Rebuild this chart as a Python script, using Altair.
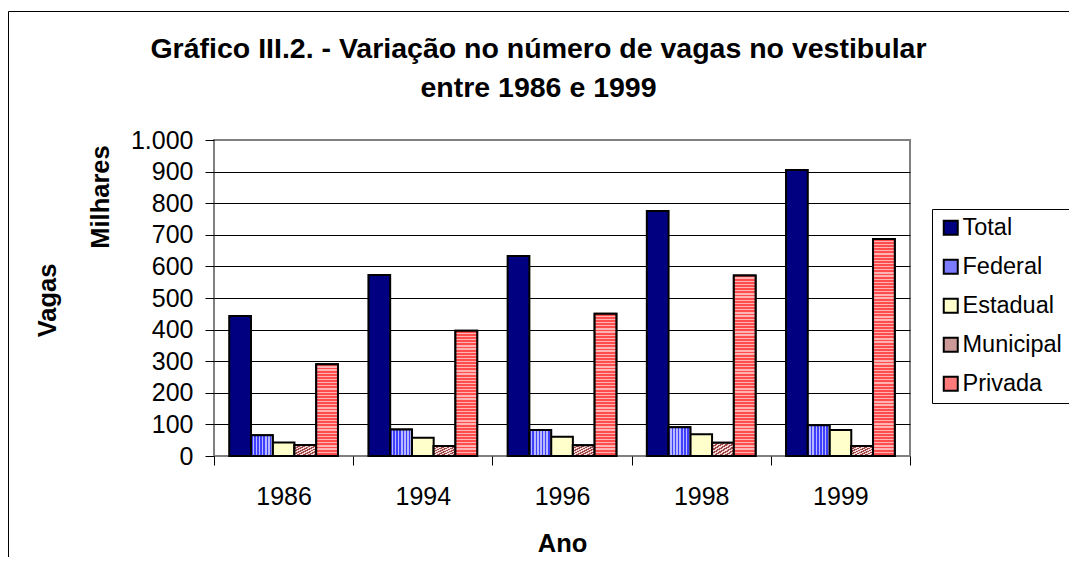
import altair as alt
import pandas as pd

# ---- data (thousands of places) ----
years = ["1986", "1994", "1996", "1998", "1999"]
series = ["Total", "Federal", "Estadual", "Municipal", "Privada"]
total = [443, 573, 633, 775, 905]
federal = [66, 84, 82, 91, 97]
estadual = [43, 58, 61, 69, 82]
municipal = [35, 32, 34, 42, 32]
privada = [290, 396, 450, 571, 687]
y_ticks = [0, 100, 200, 300, 400, 500, 600, 700, 800, 900, 1000]
title_lines = ["Gráfico III.2. - Variação no número de vagas no vestibular",
               "entre 1986 e 1999"]
units_label = ["Milhares"]

values = {"Total": total, "Federal": federal, "Estadual": estadual,
          "Municipal": municipal, "Privada": privada}
rows = [{"Ano": yr, "Serie": s, "Vagas": values[s][i]}
        for s in series for i, yr in enumerate(years)]
df = pd.DataFrame(rows)

FONT = "Liberation Sans"
W, H = 696, 316
solid = ["#000080", "#7B7BFF", "#FFFFCC", "#CC9999", "#FF7B7B"]


def stripes(c1, c2, n, frac, x2, y2):
    stops = []
    for k in range(n):
        a = k / n
        b = (k + frac) / n
        c = (k + 1) / n
        stops += [alt.GradientStop(offset=a, color=c1),
                  alt.GradientStop(offset=b, color=c1),
                  alt.GradientStop(offset=b, color=c2),
                  alt.GradientStop(offset=c, color=c2)]
    return alt.LinearGradient(gradient="linear", stops=stops,
                              x1=0, y1=0, x2=x2, y2=y2)


x_enc = alt.X("Ano:N", sort=years,
              scale=alt.Scale(paddingInner=0, paddingOuter=0),
              axis=alt.Axis(labelAngle=0, labelFont=FONT, labelFontSize=25,
                            labelColor="black", labelBaseline="alphabetic",
                            labelPadding=39, tickBand="extent", tickSize=9,
                            tickColor="black", tickWidth=1, domain=False,
                            grid=False, title="Ano", titleFont=FONT,
                            titleFontSize=25.5, titleFontWeight="bold",
                            titleColor="black", titleX=348, titleY=95,
                            titleAlign="center", titleBaseline="alphabetic"))
xo_enc = alt.XOffset("Serie:N", sort=series,
                     scale=alt.Scale(domain=series, paddingInner=0,
                                     paddingOuter=0.7))
y_enc = alt.Y("Vagas:Q", scale=alt.Scale(domain=[0, 1000], nice=False),
              axis=alt.Axis(values=y_ticks, format=",d",
                            labelExpr="replace(datum.label, ',', '.')",
                            labelFont=FONT, labelFontSize=25,
                            labelColor="black", labelPadding=12,
                            tickSize=9, tickColor="black", tickWidth=1,
                            domain=False, grid=True, gridWidth=1,
                            gridColor={"condition": {"test": "datum.value == 0 || datum.value == 1000",
                                                     "value": "#808080"},
                                       "value": "#000000"},
                            title="Vagas", titleFont=FONT, titleFontSize=25.5,
                            titleFontWeight="bold", titleColor="black",
                            titleAngle=270, titleX=-158.5, titleY=160,
                            titleAlign="center", titleBaseline="alphabetic"))

base = alt.Chart(df)

frame = alt.Chart(alt.Data(values=[{"a": 1}])).mark_rect(
    filled=False, stroke="black", strokeWidth=1
).encode(x=alt.value(-205.5), x2=alt.value(1500),
         y=alt.value(-128.5), y2=alt.value(1000))

bars = base.mark_bar(stroke="black", strokeWidth=2).encode(
    x=x_enc, xOffset=xo_enc, y=y_enc,
    color=alt.Color("Serie:N", sort=series,
                    scale=alt.Scale(domain=series, range=solid),
                    legend=alt.Legend(orient="none", legendX=718, legendY=69,
                                      title=None, padding=7,
                                      strokeColor="black", fillColor="white",
                                      labelFont=FONT, labelFontSize=23.5,
                                      labelColor="black", symbolType="square",
                                      symbolSize=196, symbolStrokeColor="black",
                                      symbolStrokeWidth=2, rowPadding=14,
                                      labelOffset=0, symbolOpacity=1)))

layers = [frame, bars]

fed = base.transform_filter("datum.Serie == 'Federal'").mark_bar(
    stroke="black", strokeWidth=2,
    fill=stripes("#3F3FFF", "#B8B8FF", 7, 0.5, 1, 0)
).encode(x=x_enc, xOffset=xo_enc, y=y_enc)
layers.append(fed)

mun = base.transform_filter("datum.Serie == 'Municipal'").mark_bar(
    stroke="black", strokeWidth=2,
    fill=stripes("#A04848", "#F4DADA", 8, 0.5, 1, 1)
).encode(x=x_enc, xOffset=xo_enc, y=y_enc)
layers.append(mun)

for i, yr in enumerate(years):
    n = max(1, int(round(privada[i] / 10)))
    lay = base.transform_filter(
        f"datum.Serie == 'Privada' && datum.Ano == '{yr}'"
    ).mark_bar(
        stroke="black", strokeWidth=2,
        fill=stripes("#FF4D4D", "#FFB3B3", n, 0.6, 0, 1)
    ).encode(x=x_enc, xOffset=xo_enc, y=y_enc)
    layers.append(lay)

t1 = alt.Chart(alt.Data(values=[{"t": title_lines[0]}])).mark_text(
    font=FONT, fontSize=28.5, fontWeight="bold", align="center",
    baseline="alphabetic", color="black"
).encode(text="t:N", x=alt.value(324.5), y=alt.value(-81.7))
t2 = alt.Chart(alt.Data(values=[{"t": title_lines[1]}])).mark_text(
    font=FONT, fontSize=28.5, fontWeight="bold", align="center",
    baseline="alphabetic", color="black"
).encode(text="t:N", x=alt.value(324.5), y=alt.value(-43))
mil = alt.Chart(alt.Data(values=[{"t": units_label[0]}])).mark_text(
    font=FONT, fontSize=25.5, fontWeight="bold", align="center",
    baseline="alphabetic", color="black", angle=270
).encode(text="t:N", x=alt.value(-105), y=alt.value(57))
layers += [t1, t2, mil]

chart = alt.layer(*layers).properties(
    width=W, height=H,
    autosize=alt.AutoSizeParams(type="none"),
    padding={"left": 206, "top": 132, "right": 159, "bottom": 101},
    background="white",
).configure(font=FONT).configure_view(stroke="#808080", strokeWidth=2)

chart.save("out.html", embed_options={"renderer": "svg", "actions": False})
